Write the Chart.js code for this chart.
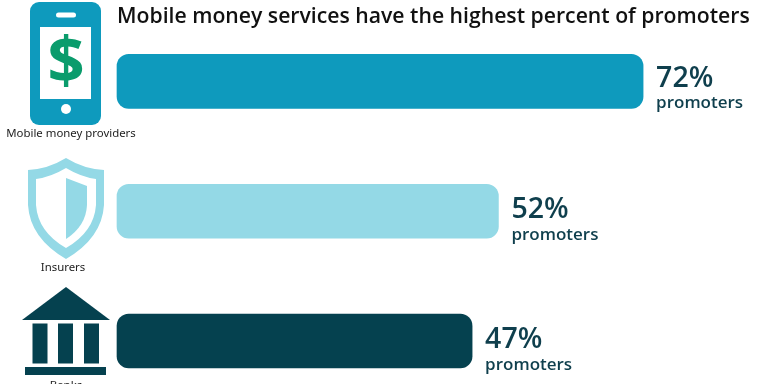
<!DOCTYPE html>
<html>
<head>
<meta charset="utf-8">
<script src="https://cdn.jsdelivr.net/npm/chart.js@4"></script>
<style>
  body { margin: 0; background: #fff; }
  canvas { display: block; }
</style>
</head>
<body>
<canvas id="chart" width="768" height="384"></canvas>
<script>
const chartTitle = "Mobile money services have the highest percent of promoters";
const categories = ["Mobile money providers", "Insurers", "Banks"];
const promoterLabels = ["72%", "52%", "47%"];
// bar lengths as measured in the picture, the 47% bar is drawn a bit longer than its label
const barValues = [72, 52.2, 48.6];
const barColors = ["#0e9abd", "#94d9e6", "#05414f"];

const FONT = "'Open Sans', sans-serif";
const TEXT_DARK = "#0f3f4d";

function roundRect(ctx, x, y, w, h, r) {
  ctx.beginPath();
  ctx.roundRect(x, y, w, h, r);
  ctx.fill();
}

function drawPhone(ctx) {
  ctx.fillStyle = barColors[0];
  roundRect(ctx, 30, 2, 71, 123, 9);
  ctx.fillStyle = "#fff";
  ctx.fillRect(40, 27, 51, 72);
  roundRect(ctx, 56, 12.5, 20, 5, 2.5);
  ctx.beginPath();
  ctx.arc(66, 109, 5, 0, Math.PI * 2);
  ctx.fill();
  ctx.fillStyle = "#0a9c6c";
  ctx.font = "bold 65px " + FONT;
  ctx.textAlign = "center";
  ctx.textBaseline = "middle";
  ctx.fillText("$", 66, 64);
}

function drawShield(ctx) {
  ctx.fillStyle = barColors[1];
  ctx.beginPath();
  ctx.moveTo(66, 158);
  ctx.quadraticCurveTo(84, 169, 104, 170);
  ctx.lineTo(104, 205);
  ctx.quadraticCurveTo(102, 238, 66, 259);
  ctx.quadraticCurveTo(30, 238, 28, 205);
  ctx.lineTo(28, 170);
  ctx.quadraticCurveTo(48, 169, 66, 158);
  ctx.fill();
  ctx.fillStyle = "#fff";
  ctx.beginPath();
  ctx.moveTo(66, 168);
  ctx.quadraticCurveTo(81, 177, 96, 179);
  ctx.lineTo(96, 205);
  ctx.quadraticCurveTo(94, 232, 66, 248);
  ctx.quadraticCurveTo(38, 232, 36, 205);
  ctx.lineTo(36, 179);
  ctx.quadraticCurveTo(51, 177, 66, 168);
  ctx.fill();
  ctx.fillStyle = barColors[1];
  ctx.beginPath();
  ctx.moveTo(66, 178);
  ctx.lineTo(87, 186);
  ctx.lineTo(87, 205);
  ctx.quadraticCurveTo(86, 226, 66, 239);
  ctx.closePath();
  ctx.fill();
}

function drawBank(ctx) {
  ctx.fillStyle = barColors[2];
  ctx.beginPath();
  ctx.moveTo(66, 287);
  ctx.lineTo(110, 320);
  ctx.lineTo(22, 320);
  ctx.closePath();
  ctx.fill();
  ctx.fillRect(32.5, 323.5, 15, 40);
  ctx.fillRect(58, 323.5, 15, 40);
  ctx.fillRect(84, 323.5, 15, 40);
  ctx.fillRect(25, 367, 81, 8);
}

const iconPlugin = {
  id: "icons",
  afterDraw(chart) {
    const ctx = chart.ctx;
    ctx.save();
    drawPhone(ctx);
    drawShield(ctx);
    drawBank(ctx);
    ctx.fillStyle = "#222";
    ctx.font = "11.4px 'Noto Sans', sans-serif";
    ctx.textAlign = "center";
    ctx.textBaseline = "middle";
    ctx.fillText(categories[0], 71, 134);
    ctx.fillText(categories[1], 63, 268);
    ctx.fillText(categories[2], 66, 386);
    ctx.restore();
  }
};

const valueLabelPlugin = {
  id: "valueLabels",
  afterDatasetsDraw(chart) {
    const ctx = chart.ctx;
    const bars = chart.getDatasetMeta(0).data;
    // rows in the picture are not evenly spaced, so the labels sit a little off the bar centres
    const nudge = [-3, -1, -1];
    ctx.save();
    ctx.fillStyle = TEXT_DARK;
    ctx.textAlign = "left";
    ctx.textBaseline = "middle";
    bars.forEach((bar, i) => {
      ctx.font = "600 28.5px " + FONT;
      ctx.fillText(promoterLabels[i], bar.x + 13, bar.y + nudge[i]);
      ctx.font = "600 17px " + FONT;
      ctx.fillText("promoters", bar.x + 13, bar.y + nudge[i] + 25);
    });
    ctx.restore();
  }
};

new Chart(document.getElementById("chart"), {
  type: "bar",
  data: {
    labels: categories,
    datasets: [{
      data: barValues,
      backgroundColor: barColors,
      barThickness: 54,
      borderRadius: 12,
      borderSkipped: false,
      clip: false
    }]
  },
  options: {
    indexAxis: "y",
    responsive: false,
    animation: false,
    layout: { padding: { left: 117, right: 8, top: 0, bottom: 43 } },
    scales: {
      x: { display: false, min: 0, max: 88, grid: { display: false } },
      y: { display: false, offset: false, grid: { display: false } }
    },
    plugins: {
      legend: { display: false },
      tooltip: { enabled: false },
      title: {
        display: true,
        text: chartTitle,
        align: "start",
        fullSize: false,
        color: "#111",
        font: { family: FONT, size: 21.2, weight: "600", lineHeight: 1.2 },
        padding: { top: 4, bottom: 52 }
      }
    }
  },
  plugins: [valueLabelPlugin, iconPlugin]
});
</script>
</body>
</html>
